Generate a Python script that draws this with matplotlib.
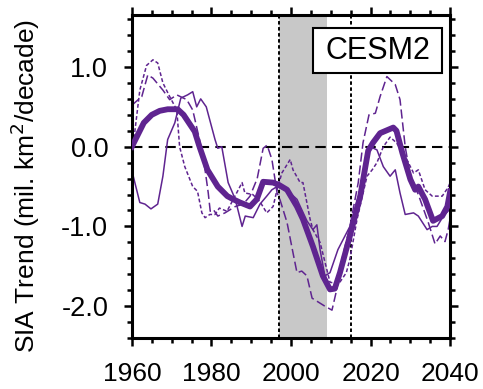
import matplotlib
matplotlib.use('Agg')
import matplotlib.pyplot as plt
from matplotlib.patches import Rectangle
from matplotlib.ticker import MultipleLocator

plt.rcParams['font.family'] = ['Liberation Sans', 'DejaVu Sans']

# ensemble mean (thick)
mean_yr = [1960, 1961.5, 1963, 1965, 1967, 1969, 1971.5, 1973, 1975.8, 1977, 1979, 1981.6,
           1984, 1985.5, 1987.2, 1989.7, 1991.4, 1993, 1995.5, 1997, 1999, 2001.5, 2003,
           2005.5, 2008, 2009.8, 2011, 2012.3, 2014.8, 2017.4, 2019.4, 2020.6, 2022.4,
           2025.7, 2026.5, 2028, 2030, 2031.2, 2032, 2033.7, 2035.7, 2038, 2039.3, 2040]
mean_val = [0.0, 0.15, 0.3, 0.4, 0.45, 0.47, 0.47, 0.4, 0.19, 0.0, -0.29, -0.5,
            -0.62, -0.66, -0.7, -0.75, -0.66, -0.44, -0.45, -0.48, -0.54, -0.75, -0.91,
            -1.25, -1.62, -1.79, -1.78, -1.58, -1.12, -0.62, -0.05, 0.05, 0.17,
            0.24, 0.2, -0.08, -0.41, -0.54, -0.5, -0.66, -0.93, -0.87, -0.75, -0.56]

# member 1 (thin solid)
m1_yr = [1960, 1962, 1963.3, 1964.8, 1966.5, 1967.8, 1969, 1970.8, 1972.3, 1974, 1975.3,
         1976.3, 1977.3, 1978.7, 1980.9, 1981.6, 1982.6, 1984.2, 1986, 1987.7, 1988.5,
         1990.5, 1992.2, 1993.9, 1995.2, 1996.5, 1999.3, 2001.5, 2004, 2005.5, 2006.5,
         2007.3, 2008.5, 2009.8, 2011.8, 2014.8, 2017.4, 2019.9, 2021.6, 2023.2, 2024.9,
         2026.2, 2027.4, 2028.7, 2030.8, 2032, 2034.2, 2035.5, 2036.7, 2038.3, 2040]
m1_val = [-0.3, -0.7, -0.72, -0.78, -0.72, -0.37, 0.09, 0.3, 0.61, 0.65, 0.69,
          0.5, 0.6, 0.5, 0.09, -0.02, 0.0, -0.45, -0.66, -1.0, -0.87,
          -0.89, -0.72, -0.62, -0.54, -0.5, -0.56, -0.66, -0.93, -1.04, -0.98,
          -1.29, -1.62, -1.58, -1.29, -1.0, -0.54, 0.0, -0.04, -0.25, -0.37,
          -0.29, -0.58, -0.85, -0.83, -0.87, -1.04, -1.0, -1.0, -0.87, -0.78]

# member 2 (long dash)
m2_yr = [1960, 1962.5, 1964, 1965.3, 1967.8, 1969.5, 1971.3, 1973.8, 1975.3, 1977, 1978.4,
         1979.2, 1979.7, 1980.5, 1981.6, 1983.4, 1986, 1988, 1989.7, 1991.5, 1993, 1994,
         1995.2, 1996.5, 1997.2, 1999, 2000.5, 2001.5, 2002.7, 2004, 2005.3, 2008.5,
         2010.3, 2011.5, 2013, 2014.8, 2016.9, 2018.1, 2019.6, 2021.2, 2022.4, 2024.1,
         2026.2, 2027.4, 2028.7, 2030, 2032, 2034.5, 2036.2, 2037.5, 2038.7, 2039.5, 2040]
m2_val = [0.52, 0.63, 0.9, 0.86, 0.71, 0.59, 0.65, 0.59, 0.46, 0.09, -0.29,
          -0.58, -0.81, -0.79, -0.87, -0.83, -0.75, -0.72, -0.62, -0.4, -0.02, 0.02,
          -0.16, -0.58, -0.66, -0.95, -1.33, -1.58, -1.56, -1.62, -1.9, -2.0,
          -2.05, -1.79, -1.37, -1.0, -0.45, 0.05, 0.4, 0.42, 0.63, 0.88,
          0.78, 0.59, 0.0, -0.37, -0.6, -0.95, -1.22, -1.12, -1.19, -1.04, -0.9]

# member 3 (short dash)
m3_yr = [1960, 1962, 1963.7, 1965.3, 1966.5, 1967.8, 1969.5, 1971.3, 1972, 1973.3, 1975.3,
         1976.5, 1977.6, 1978.4, 1979.6, 1980.9, 1982, 1983.9, 1985.5, 1987.7, 1988.4,
         1990.4, 1992.2, 1993.9, 1995.5, 1996.5, 1997.7, 1999.8, 2000.5, 2002.3, 2003,
         2004.8, 2005.5, 2007.3, 2009.8, 2012, 2013.9, 2014.8, 2016.6, 2019.1, 2020.4,
         2021.6, 2023.2, 2024.9, 2026.5, 2029.1, 2030.8, 2032, 2033.7, 2035.5, 2038, 2039.5, 2040]
m3_val = [-0.12, 0.71, 1.02, 1.09, 1.05, 0.8, 0.63, 0.46, 0.0, -0.25, -0.5,
          -0.56, -0.83, -0.89, -0.85, -0.85, -0.77, -0.81, -0.66, -0.45, -0.58,
          -0.6, -0.69, -0.83, -0.75, -0.54, -0.33, -0.16, -0.29, -0.45, -0.45,
          -0.91, -1.04, -1.2, -1.7, -1.72, -1.58, -1.41, -0.91, -0.37, -0.29,
          -0.2, 0.0, 0.12, 0.05, -0.16, -0.33, -0.29, -0.54, -0.62, -0.62, -0.51, -0.45]

hiatus = (1997, 2009)
marks = [1997, 2015]

purple = '#5f2490'

fig = plt.figure(figsize=(4.83, 3.89), dpi=100)
ax = fig.add_axes([0.273, 0.131, 0.659, 0.830])

ax.axvspan(hiatus[0], hiatus[1], color='#c8c8c8', lw=0, zorder=0)
ax.axhline(0, color='black', lw=1.5, dashes=(5, 3), zorder=1)
for m in marks:
    ax.axvline(m, color='black', lw=1.4, dashes=(1.8, 1.3), zorder=1)

ax.plot(m1_yr, m1_val, color=purple, lw=1.1, zorder=2)
ax.plot(m2_yr, m2_val, color=purple, lw=1.1, dashes=(6, 2.5), zorder=2)
ax.plot(m3_yr, m3_val, color=purple, lw=1.1, dashes=(2.5, 1.5), zorder=2)
ax.plot(mean_yr, mean_val, color=purple, lw=4.2, solid_joinstyle='round', zorder=3)

ax.set_xlim(1960, 2040)
ax.set_ylim(-2.4, 1.65)
ax.xaxis.set_major_locator(MultipleLocator(20))
ax.xaxis.set_minor_locator(MultipleLocator(5))
ax.yaxis.set_minor_locator(MultipleLocator(0.2))
ax.set_yticks([-2.0, -1.0, 0.0, 1.0])
ax.set_yticklabels(['-2.0', '-1.0', '0.0', '1.0'])
ax.tick_params(which='both', direction='out', top=True, right=True, width=1.8)
ax.tick_params(which='major', length=6)
ax.tick_params(which='minor', length=3.5)
ax.tick_params(axis='x', labelsize=19, pad=11)
ax.tick_params(axis='y', labelsize=19.5, pad=11)
for s in ax.spines.values():
    s.set_linewidth(2.2)

ax.set_ylabel('SIA Trend (mil. km$^2$/decade)', fontsize=19)
ax.yaxis.set_label_coords(-0.283, 0.47)

# label box
ax.add_patch(Rectangle((0.569, 0.820), 0.406, 0.140, transform=ax.transAxes,
                       fc='white', ec='black', lw=1.5, zorder=5))
ax.text(0.772, 0.888, 'CESM2', transform=ax.transAxes, ha='center', va='center',
        fontsize=22, zorder=6)

plt.savefig('out.png', dpi=100)
